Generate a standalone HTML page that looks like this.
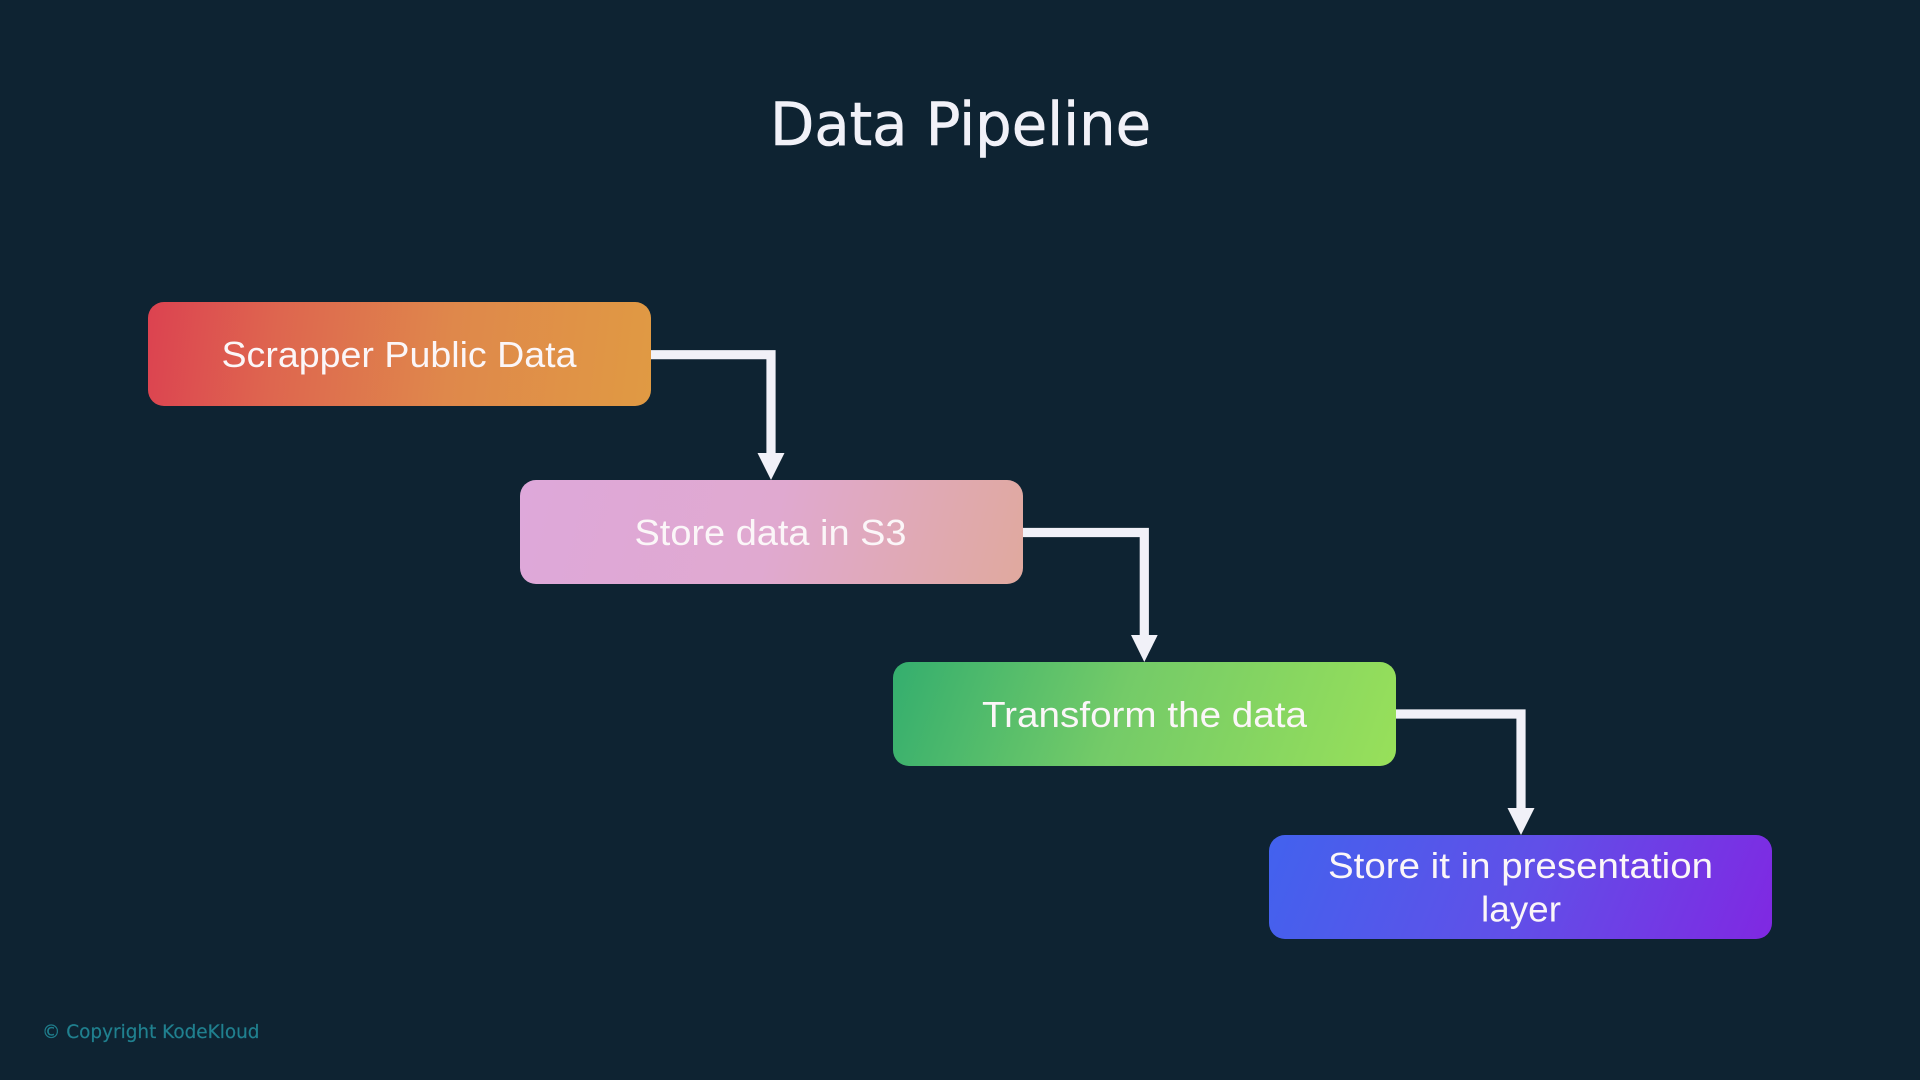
<!DOCTYPE html>
<html>
<head>
<meta charset="utf-8">
<style>
html,body{margin:0;padding:0;width:1920px;height:1080px;overflow:hidden;background:#0e2332}
.b{position:absolute;width:503px;height:104px;border-radius:16px}
svg{position:absolute;left:0;top:0}
.t{font-family:"Liberation Sans",sans-serif;font-size:36px;fill:#fbf6f8}
.d{font-family:"DejaVu Sans",sans-serif}
</style>
</head>
<body>
<div class="b" style="left:148px;top:302px;background:linear-gradient(97deg,#dc4250 0%,#de654f 25%,#df884b 60%,#e09a43 100%)"></div>
<div class="b" style="left:520px;top:480px;background:linear-gradient(105deg,#dea8da 0%,#e0a9d0 50%,#e0a99e 100%)"></div>
<div class="b" style="left:893px;top:662px;background:linear-gradient(110deg,#34ae6e 0%,#74cb68 45%,#98e05a 100%)"></div>
<div class="b" style="left:1269px;top:835px;background:linear-gradient(112deg,#4262ee 0%,#6050e8 50%,#8028e2 100%)"></div>
<svg width="1920" height="1080" viewBox="0 0 1920 1080">
<text class="d" x="770" y="145" font-size="60" fill="#f1f1f8" stroke="#f1f1f8" stroke-width="0.6" textLength="381" lengthAdjust="spacingAndGlyphs">Data Pipeline</text>
<g fill="none" stroke="#f1f1f8" stroke-width="9.2">
<path d="M651 354.7H771V456"/>
<path d="M1023 532.5H1144.3V638"/>
<path d="M1396 714H1521V810"/>
</g>
<g fill="#f1f1f8">
<polygon points="757.5,453 784.5,453 771,480"/>
<polygon points="1131,635 1157.7,635 1144.3,662"/>
<polygon points="1507.5,808 1534.5,808 1521,835"/>
</g>
<text class="t" x="221.5" y="367" textLength="355" lengthAdjust="spacingAndGlyphs">Scrapper Public Data</text>
<text class="t" x="634.5" y="545" textLength="272" lengthAdjust="spacingAndGlyphs">Store data in S3</text>
<text class="t" x="982" y="727" textLength="325" lengthAdjust="spacingAndGlyphs">Transform the data</text>
<text class="t" x="1328" y="878" textLength="385" lengthAdjust="spacingAndGlyphs">Store it in presentation</text>
<text class="t" x="1481" y="921.5" textLength="80" lengthAdjust="spacingAndGlyphs">layer</text>
<text class="d" x="42" y="1038" font-size="19" fill="#20808f" stroke="#20808f" stroke-width="0.2" textLength="217.5" lengthAdjust="spacingAndGlyphs">© Copyright KodeKloud</text>
</svg>
</body>
</html>
